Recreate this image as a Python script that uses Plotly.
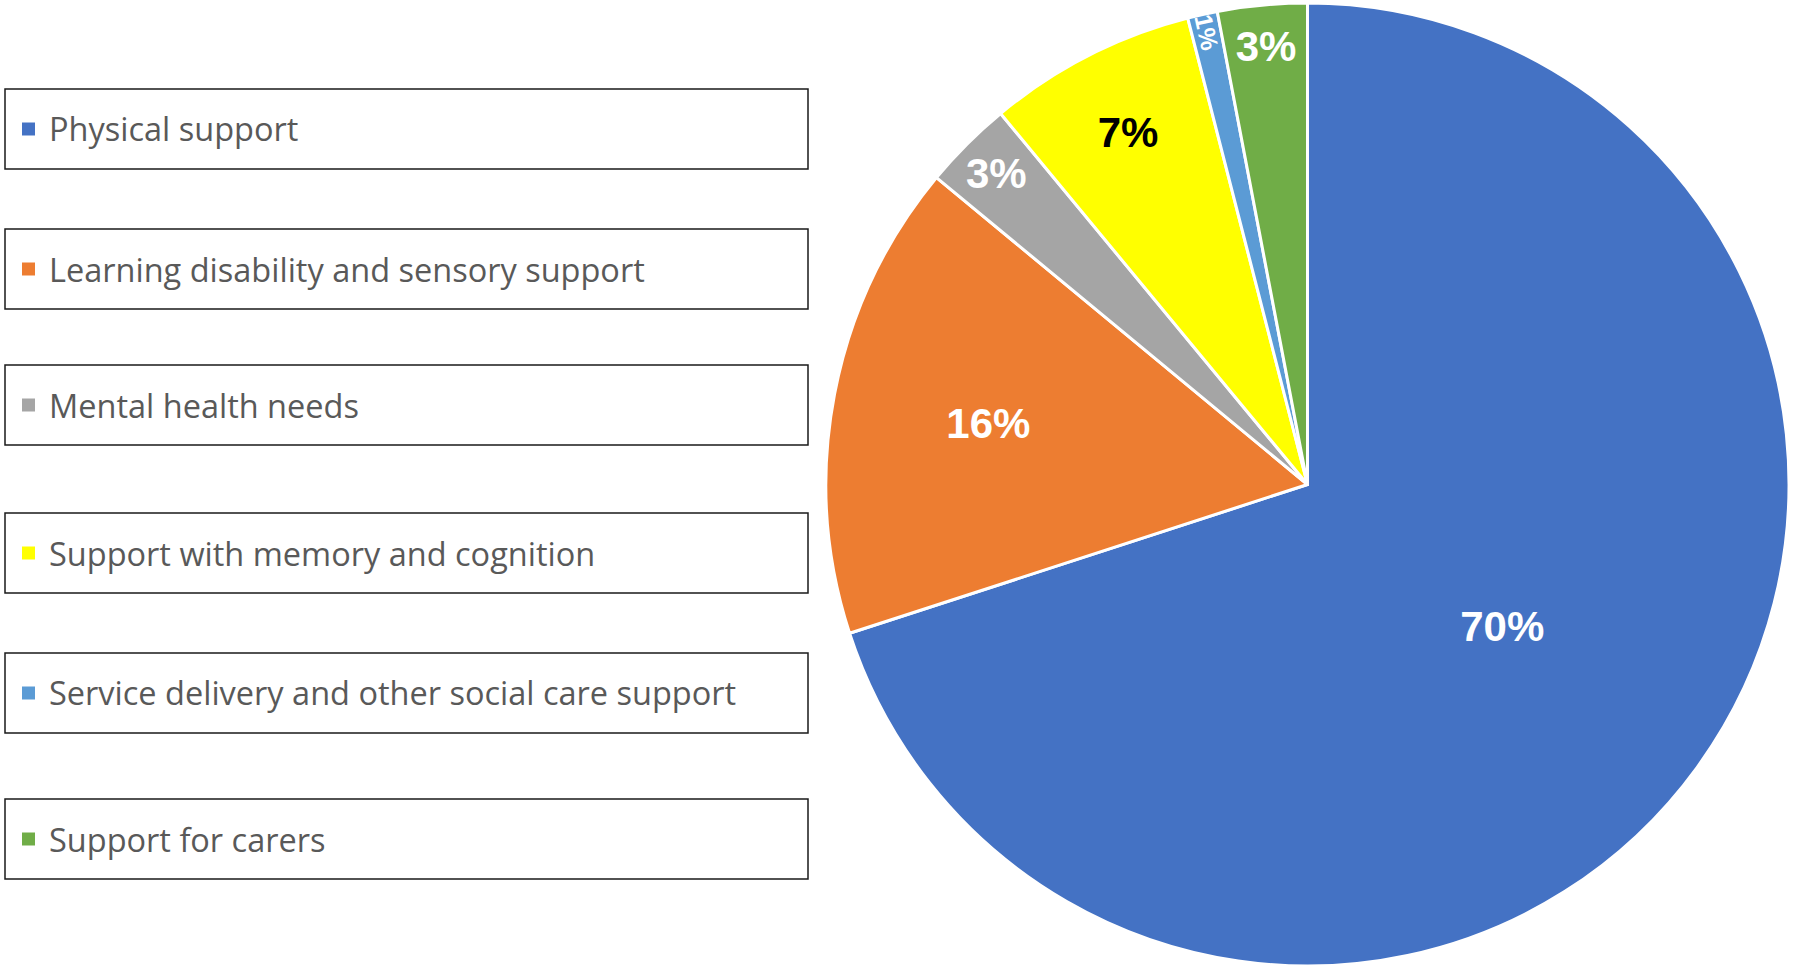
import plotly.graph_objects as go

# Share of support by primary support reason
categories = [
    "Physical support",
    "Learning disability and sensory support",
    "Mental health needs",
    "Support with memory and cognition",
    "Service delivery and other social care support",
    "Support for carers",
]
shares = [70, 16, 3, 7, 1, 3]

colors = ["#4472C4", "#ED7D31", "#A5A5A5", "#FFFF00", "#5B9BD5", "#70AD47"]
label_colors = ["white", "white", "white", "black", "white", "white"]

W, H = 1793, 968

fig = go.Figure(
    go.Pie(
        labels=categories,
        values=shares,
        sort=False,
        direction="clockwise",
        rotation=0,
        textinfo="percent",
        texttemplate="%{percent:.0%}",
        textposition="inside",
        insidetextorientation="auto",
        insidetextfont=dict(family="Liberation Sans", size=42, color=label_colors,
                            weight="bold"),
        marker=dict(colors=colors, line=dict(color="white", width=3)),
        domain=dict(x=[826 / W, 1789 / W], y=[1 - 966 / H, 1 - 3 / H]),
        showlegend=False,
        hoverinfo="label+percent",
    )
)

# Boxed key on the left: one framed row per category
box_tops = [89, 229, 365, 513, 653, 799]
box_h = 80
box_x0, box_x1 = 5, 808
shapes = []
annotations = []
for name, col, top in zip(categories, colors, box_tops):
    y0 = 1 - (top + box_h) / H
    y1 = 1 - top / H
    yc = (y0 + y1) / 2
    shapes.append(dict(
        type="rect", xref="paper", yref="paper",
        x0=box_x0 / W, x1=box_x1 / W, y0=y0, y1=y1,
        line=dict(color="#1a1a1a", width=1.5), fillcolor="rgba(0,0,0,0)",
    ))
    sq = 13
    shapes.append(dict(
        type="rect", xref="paper", yref="paper",
        x0=22 / W, x1=(22 + sq) / W,
        y0=yc - sq / 2 / H, y1=yc + sq / 2 / H,
        line=dict(width=0), fillcolor=col,
    ))
    annotations.append(dict(
        text=name, xref="paper", yref="paper",
        x=47 / W, y=yc, xanchor="left", yanchor="middle",
        showarrow=False,
        font=dict(family="Open Sans", size=32.5, color="#595959"),
    ))

fig.update_layout(
    width=W, height=H,
    margin=dict(l=0, r=0, t=0, b=0),
    paper_bgcolor="white",
    plot_bgcolor="white",
    shapes=shapes,
    annotations=annotations,
)

fig.write_html("out.html")
